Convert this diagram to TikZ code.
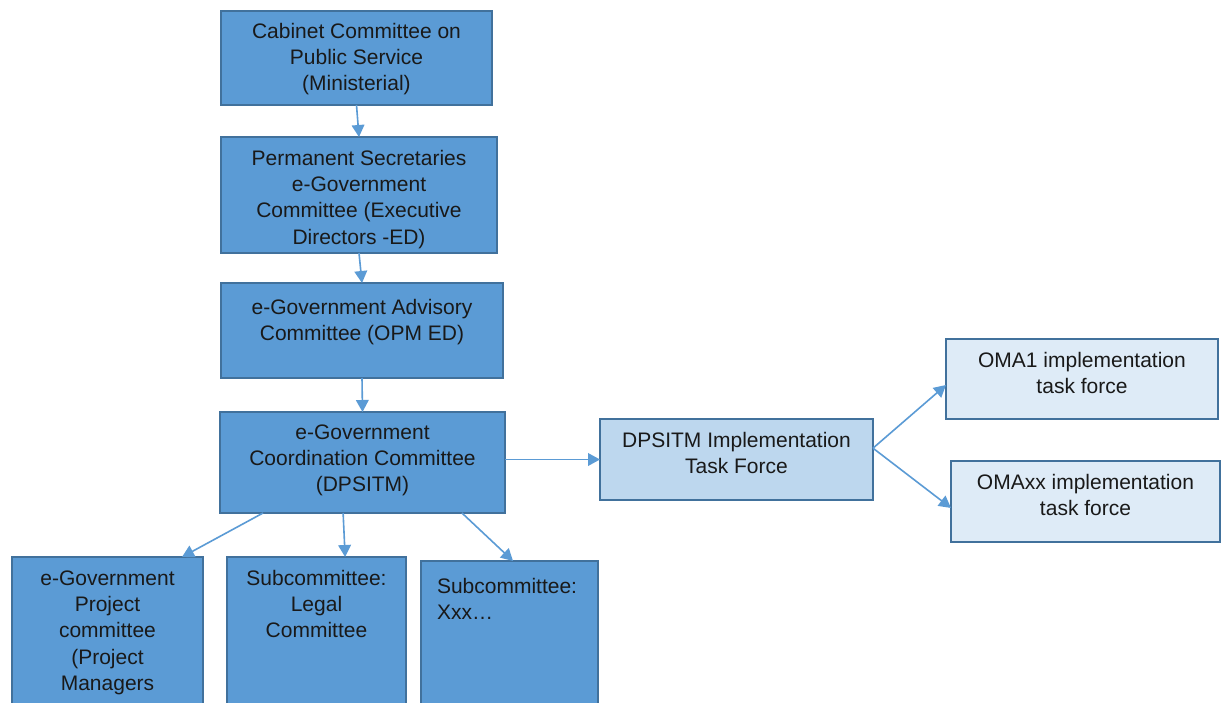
\documentclass[tikz,border=0pt]{standalone}
\usepackage{fontspec}
\setmainfont{Liberation Sans}
\usetikzlibrary{arrows.meta,calc}

\definecolor{boxdark}{HTML}{5B9BD5}
\definecolor{boxmid}{HTML}{BDD7EE}
\definecolor{boxlight}{HTML}{DEEBF7}
\definecolor{boxedge}{HTML}{41719C}
\definecolor{linkblue}{HTML}{5B9BD5}

% one drawing pixel
\newlength{\px}
\setlength{\px}{0.75pt}

% fixed-size box content: width, height, first-baseline offset, alignment, text
\newcommand{\boxtxt}[5]{%
  \begin{minipage}[t][#2\px][t]{#1\px}#4\rule{0pt}{#3\px}#5\end{minipage}}

\tikzset{
  orgbox/.style={draw=boxedge, line width=0.8pt, inner sep=0pt, outer sep=0pt,
    rectangle, font=\fontsize{15.75}{19.8}\selectfont, text=black!90},
  darkbox/.style={orgbox, fill=boxdark},
  midbox/.style={orgbox, fill=boxmid},
  lightbox/.style={orgbox, fill=boxlight},
  link/.style={draw=linkblue, line width=1.2pt,
    -{Triangle[length=9pt,width=9.5pt]}},
}

\begin{document}
\begin{tikzpicture}[x=0.75pt,y=-0.75pt]
\clip (0,0) rectangle (1221,703);
\fill[white] (0,0) rectangle (1221,703);

% main chain
\node[darkbox] (cab) at (356.5,58)
  {\boxtxt{271}{94}{27}{\centering}{Cabinet Committee on\\Public Service\\(Ministerial)}};
\node[darkbox] (psec) at (359,195)
  {\boxtxt{276}{116}{28}{\centering}{Permanent Secretaries\\e-Government\\Committee (Executive\\Directors -ED)}};
\node[darkbox] (adv) at (362,330.5)
  {\boxtxt{282}{95}{31}{\centering}{e-Government Advisory\\Committee (OPM ED)}};
\node[darkbox] (coord) at (362.5,462.5)
  {\boxtxt{285}{101}{27}{\centering}{e-Government\\Coordination Committee\\(DPSITM)}};

% implementation branch
\node[midbox] (dpsitm) at (736.5,459.5)
  {\boxtxt{273}{81}{28}{\centering}{DPSITM Implementation\\Task Force}};
\node[lightbox] (oma1) at (1082,379)
  {\boxtxt{272}{80}{28}{\centering}{OMA1 implementation\\task force}};
\node[lightbox] (omaxx) at (1085.5,501.5)
  {\boxtxt{269}{81}{28}{\centering}{OMAxx implementation\\task force}};

% subcommittees
\node[darkbox] (proj) at (107.5,637)
  {\boxtxt{191}{160}{28}{\centering}{e-Government\\Project\\committee\\(Project\\Managers}};
\node[darkbox] (legal) at (316.5,637)
  {\boxtxt{179}{160}{28}{\centering}{Subcommittee:\\Legal\\Committee}};
\node[darkbox] (xxx) at (509.5,641)
  {\boxtxt{177}{160}{32}{\raggedright\leftskip=16\px}{Subcommittee:\\Xxx…}};

% connectors
\draw[link] (cab.south) -- (psec.north);
\draw[link] (psec.south) -- (adv.north);
\draw[link] (adv.south) -- (coord.north);
\draw[link] (coord.east |- dpsitm.west) -- (dpsitm.west);

\draw[link] ($(coord.south west)!0.151!(coord.south east)$) -- ($(proj.north west)!0.89!(proj.north east)$);
\draw[link] ($(coord.south west)!0.432!(coord.south east)$) -- ($(legal.north west)!0.66!(legal.north east)$);
\draw[link] ($(coord.south west)!0.849!(coord.south east)$) -- ($(xxx.north west)!0.52!(xxx.north east)$);

\draw[link] ($(dpsitm.north east)!0.36!(dpsitm.south east)$) -- ($(oma1.north west)!0.575!(oma1.south west)$);
\draw[link] ($(dpsitm.north east)!0.36!(dpsitm.south east)$) -- ($(omaxx.north west)!0.58!(omaxx.south west)$);
\end{tikzpicture}
\end{document}
